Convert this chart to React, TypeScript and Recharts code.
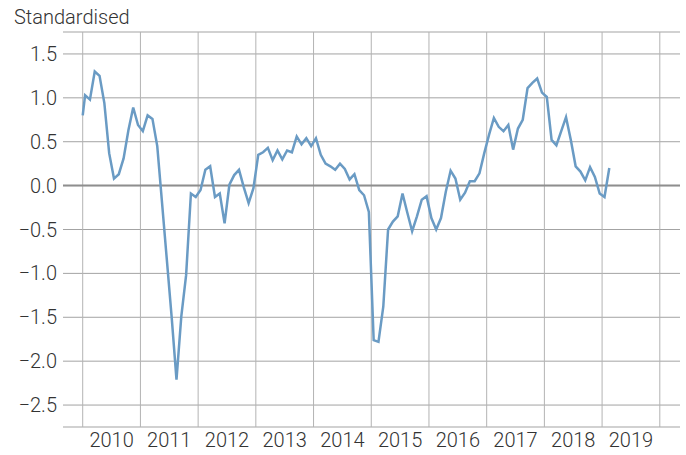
import { LineChart, Line, XAxis, YAxis, CartesianGrid, ReferenceLine } from "recharts";

// months counted from Jan 2010; each value sits mid-month
const years = [2010, 2011, 2012, 2013, 2014, 2015, 2016, 2017, 2018, 2019];
const yearStarts = [0, 12, 24, 36, 48, 60, 72, 84, 96, 108, 120];
const yTicks = [-2.5, -2, -1.5, -1, -0.5, 0, 0.5, 1, 1.5];

// value where the series enters the 2010 boundary
const startValue = 0.8;
const v2010 = [1.03, 0.98, 1.3, 1.25, 0.94, 0.37, 0.08, 0.13, 0.31, 0.63, 0.89, 0.69];
const v2011 = [0.62, 0.8, 0.76, 0.45, -0.2, -0.85, -1.5, -2.21, -1.49, -1.02, -0.09, -0.13];
const v2012 = [-0.05, 0.18, 0.22, -0.13, -0.09, -0.43, 0.01, 0.12, 0.18, -0.02, -0.2, -0.03];
const v2013 = [0.35, 0.38, 0.43, 0.29, 0.4, 0.3, 0.4, 0.38, 0.56, 0.47, 0.54, 0.45];
const v2014 = [0.54, 0.35, 0.25, 0.22, 0.18, 0.25, 0.19, 0.07, 0.13, -0.05, -0.11, -0.3];
const v2015 = [-1.76, -1.78, -1.38, -0.5, -0.41, -0.35, -0.09, -0.31, -0.52, -0.35, -0.16, -0.12];
const v2016 = [-0.37, -0.5, -0.37, -0.07, 0.17, 0.08, -0.16, -0.08, 0.05, 0.05, 0.14, 0.37];
const v2017 = [0.58, 0.77, 0.67, 0.62, 0.69, 0.41, 0.65, 0.75, 1.11, 1.17, 1.22, 1.06];
const v2018 = [1.01, 0.52, 0.46, 0.62, 0.78, 0.52, 0.22, 0.16, 0.06, 0.21, 0.1, -0.09];
const v2019 = [-0.13, 0.2];

const monthly = [
  ...v2010, ...v2011, ...v2012, ...v2013, ...v2014,
  ...v2015, ...v2016, ...v2017, ...v2018, ...v2019,
];

const data = [
  { m: 0, v: startValue },
  ...monthly.map((v, i) => ({ m: i + 0.5, v })),
];

const labelTicks = years.map((_, i) => i * 12 + 6);

const font = "Roboto, 'Liberation Sans', sans-serif";
const textColor = "#333333";

const fmtY = (v: number) => v.toFixed(1).replace("-", "\u2212");

export default function App() {
  return (
    <div style={{ position: "absolute", left: 0, top: 0, width: 686, height: 455, fontFamily: font }}>
      <div
        style={{
          position: "absolute",
          left: 14,
          top: 5,
          fontSize: 20,
          fontWeight: 300,
          color: textColor,
        }}
      >
        Standardised
      </div>
      <LineChart
        width={686}
        height={455}
        data={data}
        margin={{ top: 32, right: 6, left: 0, bottom: 0 }}
      >
        <CartesianGrid vertical={false} stroke="#a3a3a3" strokeWidth={1} />
        {yearStarts.map((m) => (
          <ReferenceLine key={m} x={m} stroke="#b3b3b3" strokeWidth={1} />
        ))}
        <ReferenceLine y={0} stroke="#8e8e8e" strokeWidth={2} />
        <XAxis
          dataKey="m"
          type="number"
          domain={[-4.1, 124.2]}
          ticks={labelTicks}
          tickFormatter={(m: number) => String(years[Math.floor(m / 12)])}
          axisLine={false}
          tickLine={false}
          tickSize={0}
          tickMargin={6}
          height={28}
          interval={0}
          tick={{ fill: textColor, fontSize: 20, fontWeight: 300, fontFamily: font }}
        />
        <YAxis
          type="number"
          domain={[-2.75, 1.75]}
          ticks={yTicks}
          tickFormatter={fmtY}
          axisLine={false}
          tickLine={false}
          tickSize={0}
          tickMargin={6}
          width={63}
          interval={0}
          tick={{ fill: textColor, fontSize: 20, fontWeight: 300, fontFamily: font }}
        />
        <Line
          type="linear"
          dataKey="v"
          stroke="#6a9bc4"
          strokeWidth={2.5}
          dot={false}
          isAnimationActive={false}
        />
      </LineChart>
    </div>
  );
}
